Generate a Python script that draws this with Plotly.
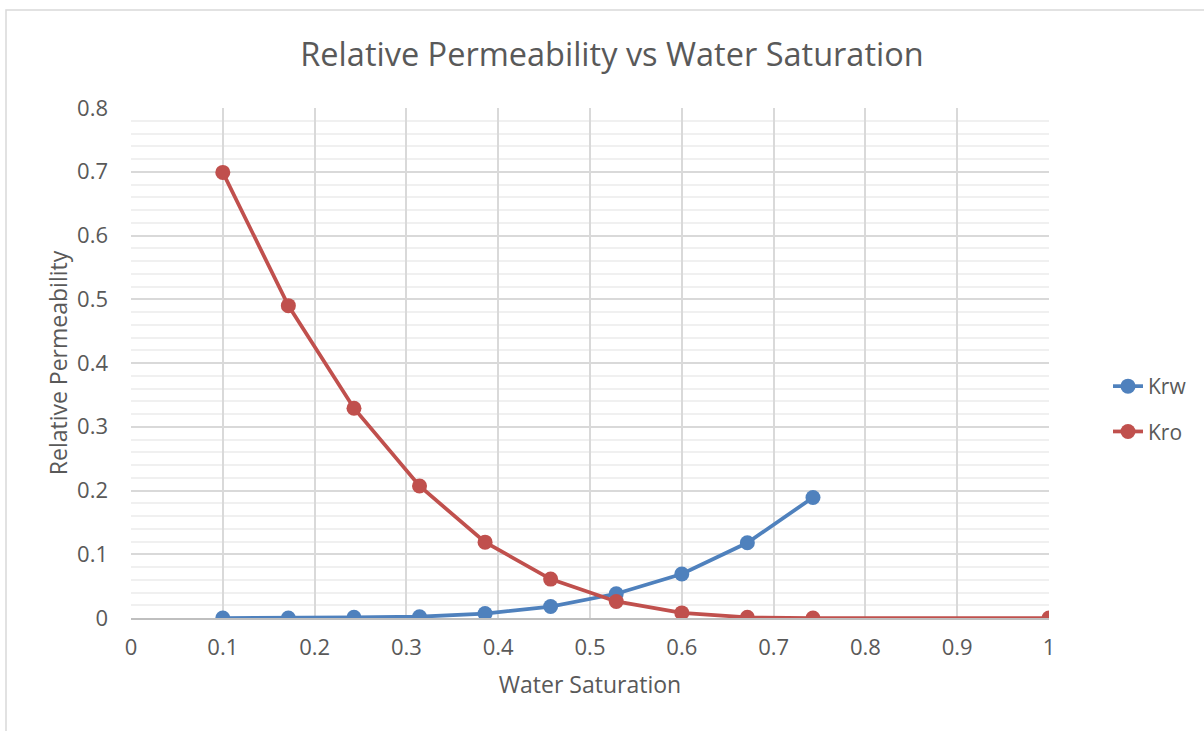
import plotly.graph_objects as go

# Water saturation sample points
sw_krw = [0.1, 0.1714, 0.2429, 0.3143, 0.3857, 0.4571, 0.5286, 0.6, 0.6714, 0.7429]
sw_kro = [0.1, 0.1714, 0.2429, 0.3143, 0.3857, 0.4571, 0.5286, 0.6, 0.6714, 0.7429, 1.0]

# Relative permeability to water and oil
krw = [0.0, 0.0001, 0.001, 0.002, 0.007, 0.018, 0.038, 0.069, 0.118, 0.189]
kro = [0.699, 0.49, 0.329, 0.207, 0.119, 0.061, 0.026, 0.008, 0.001, 0.0, 0.0]

x_ticks = [0, 0.1, 0.2, 0.3, 0.4, 0.5, 0.6, 0.7, 0.8, 0.9, 1]
x_tick_text = ["0", "0.1", "0.2", "0.3", "0.4", "0.5", "0.6", "0.7", "0.8", "0.9", "1"]
y_ticks = [0, 0.1, 0.2, 0.3, 0.4, 0.5, 0.6, 0.7, 0.8]
y_tick_text = ["0", "0.1", "0.2", "0.3", "0.4", "0.5", "0.6", "0.7", "0.8"]

FONT = "'Open Sans', 'Segoe UI', sans-serif"
TEXT = "#595959"
BLUE = "#4f81bd"
RED = "#c0504d"

fig = go.Figure()
fig.add_trace(go.Scatter(
    x=sw_krw, y=krw, name="Krw", mode="lines+markers", legendgroup="w",
    line=dict(color=BLUE, width=3.75),
    marker=dict(color=BLUE, size=15),
))
fig.add_trace(go.Scatter(
    x=sw_kro, y=kro, name="Kro", mode="lines+markers", legendgroup="o",
    line=dict(color=RED, width=3.75),
    marker=dict(color=RED, size=15),
))

W, H = 1204, 731
L, R, T, B = 131, 155, 108, 113
pw, ph = W - L - R, H - T - B

# outer chart frame (light grey border)
fig.add_shape(
    type="rect", xref="paper", yref="paper", layer="below",
    x0=(6 - L) / pw, x1=(W + 10 - L) / pw,
    y0=-(B + 10) / ph, y1=1 + (T - 10) / ph,
    line=dict(color="#d9d9d9", width=1.5), fillcolor="rgba(0,0,0,0)",
)

fig.update_layout(
    width=W, height=H,
    margin=dict(l=L, r=R, t=T, b=B),
    paper_bgcolor="white", plot_bgcolor="white",
    font=dict(family=FONT, color=TEXT, size=21),
    title=dict(
        text="Relative Permeability vs Water Saturation",
        font=dict(family=FONT, size=32.5, color=TEXT),
        x=612 / W, xanchor="center", y=1 - 55 / H, yanchor="middle",
    ),
    xaxis=dict(
        range=[0, 1], tickvals=x_ticks, ticktext=x_tick_text,
        showgrid=True, gridcolor="#d9d9d9", gridwidth=1.5,
        showline=True, linecolor="#bfbfbf", linewidth=1.5,
        zeroline=False, ticks="", ticklabelstandoff=9,
        tickfont=dict(size=22, color=TEXT),
        title=dict(text="Water Saturation", font=dict(size=23, color=TEXT), standoff=17),
    ),
    yaxis=dict(
        range=[0, 0.8], tickvals=y_ticks, ticktext=y_tick_text,
        showgrid=True, gridcolor="#d9d9d9", gridwidth=1.5,
        minor=dict(dtick=0.02, showgrid=True, gridcolor="#f0f0f0", gridwidth=1.5),
        showline=False, zeroline=False, ticks="", ticklabelstandoff=22,
        tickfont=dict(size=22, color=TEXT),
        title=dict(text="Relative Permeability", font=dict(size=23, color=TEXT), standoff=3),
    ),
    legend=dict(
        x=(1108 - L) / pw, xanchor="left",
        y=(618 - 409) / ph, yanchor="middle",
        font=dict(size=21, color=TEXT),
        bgcolor="rgba(0,0,0,0)", tracegroupgap=15,
        itemwidth=30,
    ),
    showlegend=True,
)

fig.write_html("out.html")
